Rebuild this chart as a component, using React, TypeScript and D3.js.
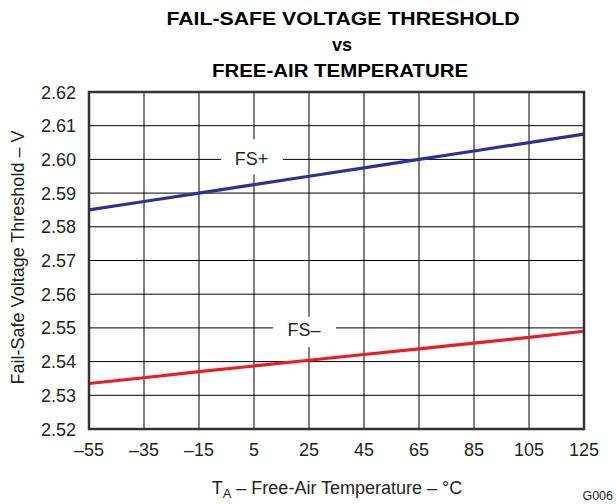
import React from 'react'
import * as d3 from 'd3'

const temps = [-55, -35, -15, 5, 25, 45, 65, 85, 105, 125]
const fsPlus = [2.585, 2.5875, 2.59, 2.5925, 2.595, 2.5975, 2.6, 2.6025, 2.605, 2.6075]
const fsMinus = [2.5335, 2.5352, 2.537, 2.5387, 2.5404, 2.5421, 2.5438, 2.5455, 2.5472, 2.549]
const yTicks = [2.52, 2.53, 2.54, 2.55, 2.56, 2.57, 2.58, 2.59, 2.6, 2.61, 2.62]

const margin = {top: 92, right: 32, bottom: 75, left: 89}
const width = 616
const height = 504
const graphWidth = width - margin.left - margin.right
const graphHeight = height - margin.top - margin.bottom

export default function App() {
    const x = d3.scaleLinear().domain([-55, 125]).range([0, graphWidth])
    const y = d3.scaleLinear().domain([2.52, 2.62]).range([graphHeight, 0])

    const line = d3.line<number>()
        .x((d, i) => x(temps[i]))
        .y(d => y(d))

    const font = 'Liberation Sans, Arial, sans-serif'
    const ink = '#231f20'

    return (
        <svg width={width} height={height} style={{position: 'absolute', left: 0, top: 0}} fontFamily={font}>
            <rect width={width} height={height} fill="#fff" />
            <g textAnchor="middle" fontWeight="bold" fontSize={18} fill="#000">
                <text x={343} y={25} textLength={353} lengthAdjust="spacingAndGlyphs">FAIL-SAFE VOLTAGE THRESHOLD</text>
                <text x={342} y={51}>vs</text>
                <text x={340} y={77} textLength={256} lengthAdjust="spacingAndGlyphs">FREE-AIR TEMPERATURE</text>
            </g>
            <g transform={`translate(${margin.left}, ${margin.top})`}>
                {/* grid */}
                {temps.map(t => (
                    <line key={'v' + t} x1={x(t)} x2={x(t)} y1={0} y2={graphHeight} stroke="#000" strokeWidth={1} />
                ))}
                {yTicks.map(v => (
                    <line key={'h' + v} x1={0} x2={graphWidth} y1={y(v)} y2={y(v)} stroke="#000" strokeWidth={1} />
                ))}

                {/* label boxes */}
                <rect x={x(5) - 33} y={y(2.6) - 20} width={62} height={35} fill="#fff" />
                <text x={x(5) - 2.5} y={y(2.6) + 6} fontSize={18} textAnchor="middle" fill={ink}>FS+</text>
                <rect x={x(25) - 36} y={y(2.55) - 11} width={63} height={30} fill="#fff" />
                <text x={x(25) - 5} y={y(2.55) + 8} fontSize={18} textAnchor="middle" fill={ink}>FS–</text>

                <path d={line(fsPlus) || ''} fill="none" stroke="#2e3192" strokeWidth={3.2} />
                <path d={line(fsMinus) || ''} fill="none" stroke="#ed1c24" strokeWidth={3.2} />

                <rect x={0} y={0} width={graphWidth} height={graphHeight} fill="none" stroke="#333" strokeWidth={2.5} />

                {yTicks.map(v => (
                    <text key={'yl' + v} x={-13} y={y(v) + 6.5} fontSize={18} textAnchor="end" fill={ink}>
                        {v.toFixed(2)}
                    </text>
                ))}
                {temps.map(t => (
                    <text key={'xl' + t} x={x(t)} y={graphHeight + 27} fontSize={18} textAnchor="middle" fill={ink}>
                        {t < 0 ? '–' + Math.abs(t) : t}
                    </text>
                ))}
            </g>
            <text x={337} y={494} fontSize={18} textAnchor="middle" fill={ink}>
                T<tspan fontSize={13} dy={4}>A</tspan><tspan dy={-4}> – Free-Air Temperature – °C</tspan>
            </text>
            <text transform={`translate(24, ${margin.top + graphHeight / 2 - 3}) rotate(-90)`} fontSize={18} textAnchor="middle" fill={ink}>
                Fail-Safe Voltage Threshold – V
            </text>
            <text x={613} y={500} fontSize={12.5} textAnchor="end" fill={ink}>G006</text>
        </svg>
    )
}
